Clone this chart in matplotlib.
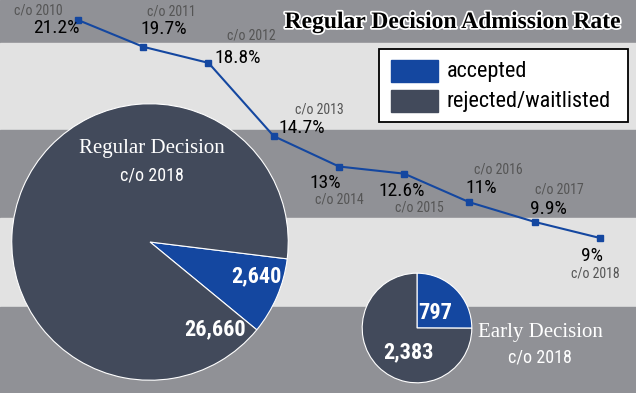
import matplotlib
matplotlib.use('Agg')
import matplotlib.pyplot as plt
import matplotlib.patheffects as pe
from matplotlib.patches import Rectangle

# admission rate by class year
years = [2010, 2011, 2012, 2013, 2014, 2015, 2016, 2017, 2018]
rates = [21.2, 19.7, 18.8, 14.7, 13.0, 12.6, 11.0, 9.9, 9.0]
rate_labels = ['21.2%', '19.7%', '18.8%', '14.7%', '13%', '12.6%', '11%', '9.9%', '9%']

# class of 2018 pies
rd_values = [2640, 26660]
rd_labels = ['2,640', '26,660']
ed_values = [797, 2383]
ed_labels = ['797', '2,383']
legend_names = ['accepted', 'rejected/waitlisted']

BLUE = '#1447a0'
SLATE = '#424a5b'
DARK = '#909196'
LIGHT = '#e2e2e2'

SANS = ['Roboto Condensed', 'Roboto', 'DejaVu Sans']
SLAB = ['Liberation Serif', 'DejaVu Serif']

W, H = 636, 393
fig = plt.figure(figsize=(6.36, 3.93), dpi=100)

# background in pixel coords
bg = fig.add_axes([0, 0, 1, 1])
bg.set_xlim(0, W)
bg.set_ylim(H, 0)
bg.axis('off')
bands = [(0, 43, DARK), (43, 130, LIGHT), (130, 218, DARK), (218, 307, LIGHT), (307, H, DARK)]
for y0, y1, c in bands:
    bg.add_patch(Rectangle((0, y0), W, y1 - y0, color=c, zorder=0))

bg.text(453, 28, 'Regular Decision Admission Rate', fontsize=17, fontweight='bold',
        family=SLAB, ha='center', va='baseline', color='black',
        path_effects=[pe.withStroke(linewidth=2.5, foreground='white')])

# legend box
bg.add_patch(Rectangle((379, 49), 249, 73, facecolor='white', edgecolor='black', lw=1.3, zorder=2))
for i, (name, c) in enumerate(zip(legend_names, [BLUE, SLATE])):
    y = 60 + i * 30
    bg.add_patch(Rectangle((391, y), 47, 22, color=c, zorder=3))
    bg.text(447, y + 11, name, fontsize=16, family=SANS, va='center', ha='left', zorder=3)

# big pie
def pie_axes(cx, cy, r):
    return fig.add_axes([(cx - r) / W, (H - cy - r) / H, 2 * r / W, 2 * r / H])

ax1 = pie_axes(150, 242, 141)
ax1.pie(rd_values, colors=[BLUE, SLATE], startangle=-7, counterclock=False, radius=1,
        wedgeprops=dict(edgecolor='white', linewidth=0.8))
ax1.set_xlim(-1.02, 1.02)
ax1.set_ylim(-1.02, 1.02)
ax1.set_aspect('equal')
ax1.axis('off')

ax2 = pie_axes(417, 328, 57)
ax2.pie(ed_values, colors=[BLUE, SLATE], startangle=90, counterclock=False, radius=1,
        wedgeprops=dict(edgecolor='white', linewidth=0.8))
ax2.set_xlim(-1.04, 1.04)
ax2.set_ylim(-1.04, 1.04)
ax2.set_aspect('equal')
ax2.axis('off')

# pie text (pixel coords, on top)
top = fig.add_axes([0, 0, 1, 1])
top.set_xlim(0, W)
top.set_ylim(H, 0)
top.axis('off')
top.patch.set_alpha(0)
num_kw = dict(fontsize=16, fontweight='bold', family=SANS, color='white', ha='center', va='center')
top.text(256, 276, rd_labels[0], **num_kw)
top.text(215, 329, rd_labels[1], **num_kw)
top.text(435, 313, ed_labels[0], **num_kw)
top.text(408, 352, ed_labels[1], **num_kw)
top.text(152, 148, 'Regular Decision', fontsize=15, family=SLAB, color='white', ha='center', va='center')
top.text(152, 176, 'c/o 2018', fontsize=13, family=SANS, color='white', ha='center', va='center')
top.text(540, 332, 'Early Decision', fontsize=15, family=SLAB, color='white', ha='center', va='center')
top.text(540, 357, 'c/o 2018', fontsize=13, family=SANS, color='white', ha='center', va='center')

# line chart in data coords spanning whole figure
ax = fig.add_axes([0, 0, 1, 1])
ax.patch.set_alpha(0)
ax.axis('off')
px_per_pct = 218 / (rates[0] - rates[-1])
px_per_year = (600 - 78) / (years[-1] - years[0])
ax.set_xlim(years[0] - 78 / px_per_year, years[0] + (W - 78) / px_per_year)
ax.set_ylim(rates[0] - (H - 20) / px_per_pct, rates[0] + 20 / px_per_pct)
ax.plot(years, rates, color=BLUE, lw=1.5, marker='s', markersize=5)

# label offsets in pixels: (class label, percent label)
offsets = [((-40, 9), (-22, -8)), ((28, 35), (21, 18)), ((43, 27), (29, 5)),
           ((46, 27), (28, 8)), ((0, -33), (-14, -16)), ((15, -34), (-3, -17)),
           ((29, 33), (12, 14)), ((25, 32), (14, 13)), ((-5, -36), (-8, -18))]
for yr, v, lab, (co, po) in zip(years, rates, rate_labels, offsets):
    ax.annotate('c/o %d' % yr, (yr, v), xytext=co, textcoords='offset pixels',
                ha='center', va='center', fontsize=10, family=SANS, color='#555555')
    ax.annotate(lab, (yr, v), xytext=po, textcoords='offset pixels',
                ha='center', va='center', fontsize=14, family=SANS, color='black')

fig.savefig('out.png', dpi=100)
